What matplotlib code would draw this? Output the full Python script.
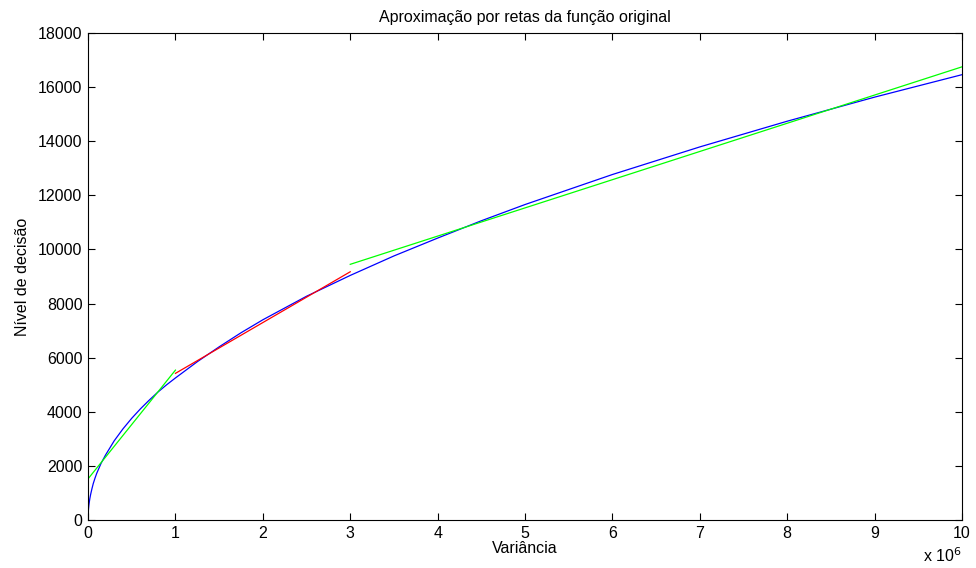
import numpy as np
import matplotlib.pyplot as plt

plt.rcParams['font.family'] = ['Liberation Sans', 'DejaVu Sans']

# curva original (variancia em unidades de 10^6)
var_orig = [0, 0.002, 0.005, 0.01, 0.02, 0.03, 0.045, 0.06, 0.08, 0.1, 0.15, 0.2, 0.3,
            0.4, 0.5, 0.6, 0.7, 0.8, 0.9, 1.0, 1.25, 1.5, 1.75, 2.0, 2.5, 3.0, 3.5,
            4, 4.5, 5, 6, 7, 8, 9, 10]
nivel_orig = [0, 250, 400, 560, 780, 950, 1160, 1350, 1550, 1730, 2100, 2400, 2930,
              3370, 3760, 4110, 4430, 4730, 5000, 5250, 5850, 6400, 6920, 7400, 8270,
              9040, 9760, 10420, 11060, 11660, 12770, 13790, 14740, 15630, 16460]

# retas de aproximacao: (x0, x1), (y0, y1), cor
retas_x = [(0, 0.005), (0, 1.0), (1.0, 3.0), (3.0, 10.0)]
retas_y = [(100, 620), (1520, 5540), (5420, 9175), (9450, 16750)]
retas_cor = ['r', '#00ff00', 'r', '#00ff00']

fs = 11.5

fig = plt.figure(figsize=(9.76, 5.68), dpi=100)
ax = fig.add_axes([0.0902, 0.0845, 0.8955, 0.8574])

ax.plot(var_orig, nivel_orig, color='b', lw=0.9)
for xs, ys, c in zip(retas_x, retas_y, retas_cor):
    ax.plot(xs, ys, color=c, lw=0.9)

ax.set_xlim(0, 10)
ax.set_ylim(0, 18000)
ax.set_xticks(np.arange(0, 11, 1))
ax.set_yticks(np.arange(0, 18001, 2000))
ax.tick_params(direction='in', top=True, right=True, labelsize=fs, length=5, width=0.8)
ax.tick_params(axis='x', pad=4)
ax.tick_params(axis='y', pad=4)
for s in ax.spines.values():
    s.set_linewidth(0.8)

ax.set_title('Aproximação por retas da função original', fontsize=fs, pad=8)
ax.set_xlabel('Variância', fontsize=fs, labelpad=0)
ax.set_ylabel('Nível de decisão', fontsize=fs, labelpad=6)
ax.text(1.0, -0.055, r'x 10$^6$', transform=ax.transAxes, ha='right', va='top', fontsize=fs)

fig.savefig('out.png', dpi=100)
